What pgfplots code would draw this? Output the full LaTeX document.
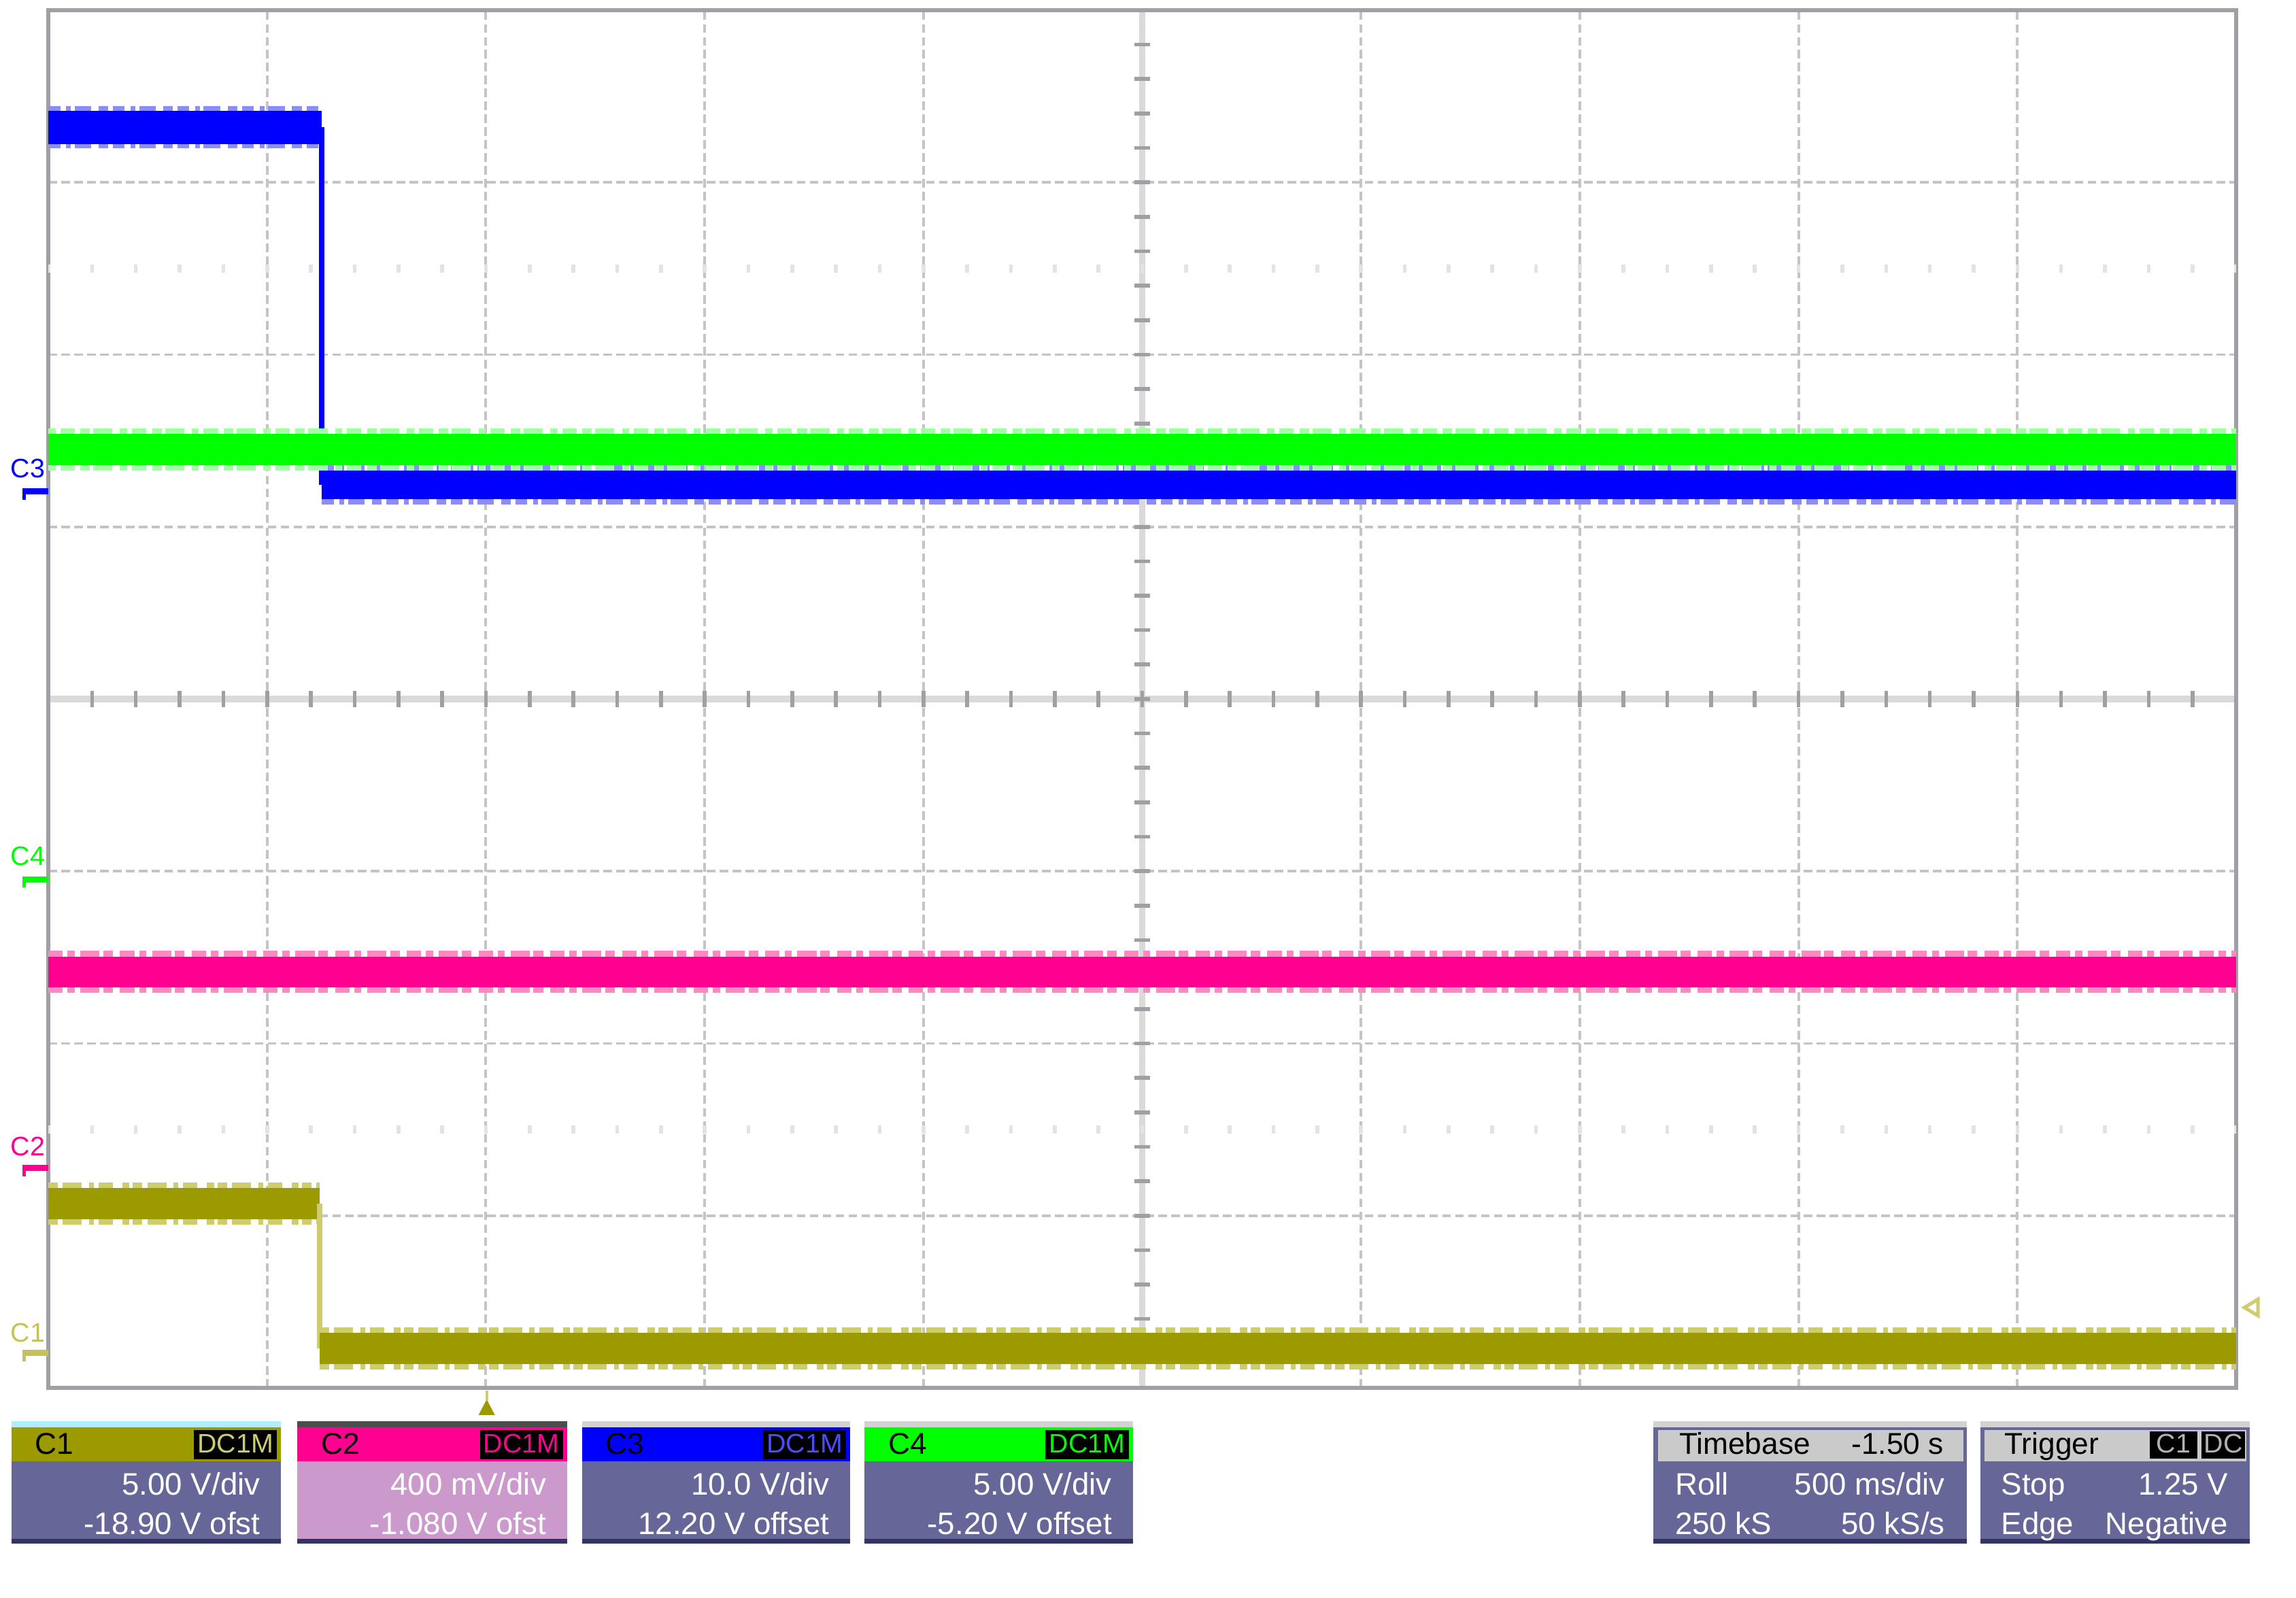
\documentclass[border=0pt]{standalone}
\usepackage{pgfplots}
\pgfplotsset{compat=1.18}
\usepackage{fontspec}
\setmainfont{Liberation Sans}
\definecolor{cI}{HTML}{9B9B00}
\definecolor{cIl}{HTML}{CDCD70}
\definecolor{cII}{HTML}{FF0090}
\definecolor{cIIl}{HTML}{FF88C4}
\definecolor{cIII}{HTML}{0000FF}
\definecolor{cIIIl}{HTML}{8C8CFF}
\definecolor{cIV}{HTML}{00FF00}
\definecolor{cIVl}{HTML}{A0FFA0}
\definecolor{slate}{HTML}{666699}
\definecolor{slatedark}{HTML}{333366}
\definecolor{pinkbody}{HTML}{CC99CC}
\definecolor{gridc}{HTML}{C4C4C4}
\definecolor{framec}{HTML}{A0A0A4}
\definecolor{centc}{HTML}{DADADA}
\definecolor{hdrgray}{HTML}{CACACA}
\newcommand\hdr{\fontsize{6.3}{7}\selectfont}
\newcommand\tagf{\fontsize{5.6}{6}\selectfont}
\newcommand\bdy{\fontsize{6.5}{7}\selectfont}
\newcommand\lbl{\fontsize{5.6}{6}\selectfont}
% #1 x0, #2 x1, #3 header colour, #4 label, #5 tag text colour, #6 body colour, #7 line1, #8 line2, #9 strip colour
\newcommand\chbox[9]{%
  \fill[#9] (#1,2088) rectangle (#2,2097);
  \fill[#6] (#1,2147) rectangle (#2,2261);
  \fill[#3] (#1,2097) rectangle (#2,2147);
  \fill[slatedark] (#1,2261) rectangle (#2,2268);
  \fill[black] ({#2-128},2101) rectangle ({#2-6},2144);
  \node[anchor=base west, text=black, font=\hdr] at ({#1+10},2137) {#4};
  \node[anchor=base, text=#5, font=\tagf] at ({#2-67},2135) {DC1M};
  \node[anchor=base east, text=white, font=\bdy] at ({#2-6},2196) {#7};
  \node[anchor=base east, text=white, font=\bdy] at ({#2-6},2254) {#8};
}
\begin{document}
\begin{tikzpicture}
\begin{axis}[at={(0.355cm,-0.075cm)}, anchor=north west, scale only axis,
  width=16.085cm, height=10.13cm,
  xmin=0, xmax=10, ymin=-4, ymax=4,
  xtick={1,2,3,4,6,7,8,9}, ytick={-3,-2,-1,1,2,3},
  xticklabels={}, yticklabels={}, major tick length=0pt,
  grid=major,
  major grid style={gridc, line width=0.55pt, dash pattern=on 1.8pt off 0.9pt},
  axis line style={framec, line width=0.75pt},
  clip=true]
% centre cross with 0.2 div tick marks
\draw[centc, line width=1.4pt] (axis cs:5,-4) -- (axis cs:5,4);
\draw[centc, line width=1.4pt] (axis cs:0,0) -- (axis cs:10,0);
\draw[framec, line width=0.116cm, dash pattern=on 0.8pt off 8.3533pt, dash phase=0.4pt] (axis cs:0,0) -- (axis cs:10,0);
\draw[framec, line width=0.116cm, dash pattern=on 0.8pt off 6.4057pt, dash phase=0.4pt] (axis cs:5,-4) -- (axis cs:5,4);
\draw[gray!22, line width=0.06cm, dash pattern=on 0.8pt off 8.3533pt, dash phase=0.4pt] (axis cs:0,2.5) -- (axis cs:10,2.5);
\draw[gray!22, line width=0.06cm, dash pattern=on 0.8pt off 8.3533pt, dash phase=0.4pt] (axis cs:0,-2.5) -- (axis cs:10,-2.5);
% C1 (olive)
\addplot[cIl, line width=8.8pt, dash pattern=on 2pt off 1pt on 4pt off 1.5pt on 1pt off 1pt on 3pt off 2pt on 1.5pt off 0.7pt] coordinates {(0,-2.93) (1.24,-2.93)};
\addplot[cI, line width=6.5pt] coordinates {(0,-2.93) (1.24,-2.93)};
\addplot[cIl, line width=1.2pt] coordinates {(1.24,-2.93) (1.24,-3.77)};
\addplot[cIl, line width=8.8pt, dash pattern=on 2pt off 1pt on 4pt off 1.5pt on 1pt off 1pt on 3pt off 2pt on 1.5pt off 0.7pt] coordinates {(1.24,-3.77) (10,-3.77)};
\addplot[cI, line width=6.5pt] coordinates {(1.24,-3.77) (10,-3.77)};
% C2 (magenta)
\addplot[cIIl, line width=8.8pt, dash pattern=on 3pt off 1pt on 1.5pt off 1.2pt on 4pt off 0.8pt on 2pt off 1.5pt] coordinates {(0,-1.585) (10,-1.585)};
\addplot[cII, line width=6.5pt] coordinates {(0,-1.585) (10,-1.585)};
% C3 (blue)
\addplot[cIIIl, line width=8.8pt, dash pattern=on 2.5pt off 1.2pt on 1pt off 0.8pt on 3.5pt off 1.5pt on 2pt off 1pt] coordinates {(0,3.32) (1.25,3.32)};
\addplot[cIII, line width=7pt] coordinates {(0,3.32) (1.25,3.32)};
\addplot[cIII, line width=1.2pt] coordinates {(1.25,3.32) (1.25,1.245)};
\addplot[cIIIl, line width=8.2pt, dash pattern=on 2.5pt off 1.2pt on 1pt off 0.8pt on 3.5pt off 1.5pt on 2pt off 1pt] coordinates {(1.25,1.245) (10,1.245)};
\addplot[cIII, line width=6pt] coordinates {(1.25,1.245) (10,1.245)};
% C4 (green)
\addplot[cIVl, line width=8.8pt, dash pattern=on 1.5pt off 1pt on 3pt off 1.2pt on 2pt off 0.7pt on 4pt off 1.6pt] coordinates {(0,1.45) (10,1.45)};
\addplot[cIV, line width=6.5pt] coordinates {(0,1.45) (10,1.45)};
\end{axis}
\begin{scope}[x=0.005cm,y=-0.005cm]
% channel markers on the left
\node[text=cIII, font=\lbl] at (41,688) {C3};
\draw[cIII, line width=0.045cm] (33,722) -- (71,722);
\draw[cIII, line width=0.025cm] (35,718) -- (35,734);
\node[text=cIV, font=\lbl] at (41,1258) {C4};
\draw[cIV, line width=0.045cm] (33,1292) -- (71,1292);
\draw[cIV, line width=0.025cm] (35,1288) -- (35,1304);
\node[text=cII, font=\lbl] at (41,1684) {C2};
\draw[cII, line width=0.045cm] (33,1716) -- (71,1716);
\draw[cII, line width=0.025cm] (35,1712) -- (35,1728);
\node[text=cIl!80!cI, font=\lbl] at (41,1958) {C1};
\draw[cIl!80!cI, line width=0.045cm] (33,1988) -- (71,1988);
\draw[cIl!80!cI, line width=0.025cm] (35,1984) -- (35,2000);
% trigger position and level markers
\fill[cI] (703,2079) -- (727,2079) -- (715,2056) -- cycle;
\draw[cIl, line width=0.02cm] (715,2043) -- (715,2058);
\draw[cIl, line width=0.025cm] (3297,1921) -- (3317,1909) -- (3317,1933) -- cycle;
% channel boxes
\chbox{17}{413}{cI}{C1}{cIl}{slate}{5.00 V/div}{-18.90 V ofst}{blue!25!cyan!30}
\chbox{437}{833}{cII}{C2}{cII}{pinkbody}{400 mV/div}{-1.080 V ofst}{black!70}
\chbox{855}{1249}{cIII}{C3}{cIII!70!white}{slate}{10.0 V/div}{12.20 V offset}{gray!35}
\chbox{1270}{1664}{cIV}{C4}{cIV}{slate}{5.00 V/div}{-5.20 V offset}{gray!35}
% timebase box
\fill[gray!35] (2429,2088) rectangle (2889,2097);
\fill[slate] (2429,2097) rectangle (2889,2261);
\fill[hdrgray] (2436,2101) rectangle (2884,2147);
\fill[slatedark] (2429,2261) rectangle (2889,2268);
\node[anchor=base west, text=black, font=\hdr] at (2442,2137) {Timebase};
\node[anchor=base east, text=black, font=\hdr] at (2880,2137) {-1.50 s};
\node[anchor=base west, text=white, font=\bdy] at (2436,2196) {Roll};
\node[anchor=base east, text=white, font=\bdy] at (2882,2196) {500 ms/div};
\node[anchor=base west, text=white, font=\bdy] at (2436,2254) {250 kS};
\node[anchor=base east, text=white, font=\bdy] at (2882,2254) {50 kS/s};
% trigger box
\fill[gray!35] (2909,2088) rectangle (3305,2097);
\fill[slate] (2909,2097) rectangle (3305,2261);
\fill[hdrgray] (2915,2101) rectangle (3300,2147);
\fill[slatedark] (2909,2261) rectangle (3305,2268);
\node[anchor=base west, text=black, font=\hdr] at (2920,2137) {Trigger};
\fill[black] (3158,2103) rectangle (3228,2143);
\fill[black] (3234,2103) rectangle (3298,2143);
\node[anchor=base, text=gray!60, font=\tagf] at (3193,2135) {C1};
\node[anchor=base, text=gray!60, font=\tagf] at (3266,2135) {DC};
\node[anchor=base west, text=white, font=\bdy] at (2915,2196) {Stop};
\node[anchor=base east, text=white, font=\bdy] at (3298,2196) {1.25 V};
\node[anchor=base west, text=white, font=\bdy] at (2915,2254) {Edge};
\node[anchor=base east, text=white, font=\bdy] at (3298,2254) {Negative};
\end{scope}
\pgfresetboundingbox
\path[use as bounding box] (0,0) rectangle (16.88cm,-11.75cm);
\end{tikzpicture}
\end{document}
